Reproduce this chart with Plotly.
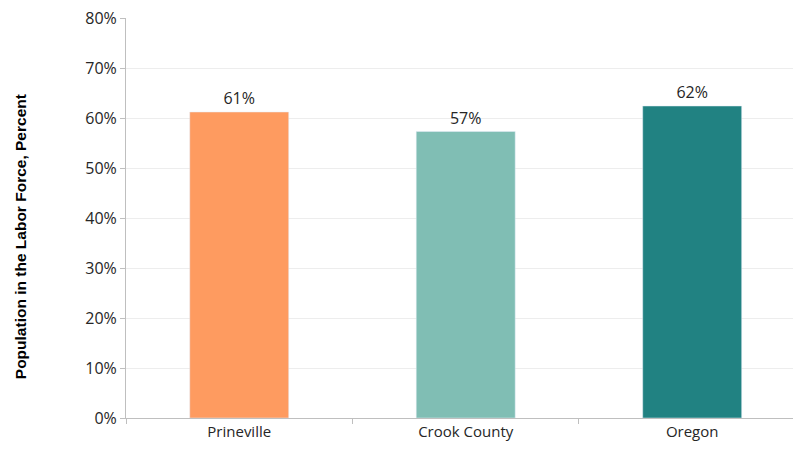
import plotly.graph_objects as go

categories = ["Prineville", "Crook County", "Oregon"]
values = [0.612, 0.573, 0.624]
colors = ["#FE9B60", "#80BEB4", "#218282"]
y_ticks = [0, 0.1, 0.2, 0.3, 0.4, 0.5, 0.6, 0.7, 0.8]

fig = go.Figure(go.Bar(
    x=categories, y=values, marker_color=colors, width=0.437,
    text=[f"{round(v*100)}%" for v in values], textposition="outside",
    textfont=dict(family="Open Sans", size=16, color="#262626"),
    cliponaxis=False,
))

# page body has an 8px default margin; compensate so the plot lands at the reference position
fig.update_layout(
    width=793, height=442,
    margin=dict(l=118, r=1, t=10, b=32),
    plot_bgcolor="white", paper_bgcolor="white",
    showlegend=False,
    font=dict(family="Open Sans", size=16, color="#262626"),
    xaxis=dict(range=[-0.5, 2.476], showline=True, linecolor="#BFBFBF", linewidth=1,
               ticks="outside", tickson="boundaries", ticklen=5, tickcolor="#BFBFBF",
               showgrid=False, tickfont=dict(size=15), automargin=False),
    yaxis=dict(range=[0, 0.8], tickvals=y_ticks, tickformat=".0%", showline=True,
               linecolor="#BFBFBF", linewidth=1, ticks="outside", ticklen=5, tickcolor="#BFBFBF",
               gridcolor="#EDEDED", zeroline=False, tickfont=dict(size=16), automargin=False,
               ticklabeloverflow="allow"),
    annotations=[dict(text="<b>Population in the Labor Force, Percent</b>", xref="paper", yref="paper",
                      x=-0.157, y=0.4525, xanchor="center", yanchor="middle", textangle=-90, showarrow=False,
                      font=dict(family="Liberation Sans", size=15.5, color="#000000"))],
)

fig.write_html("out.html")
